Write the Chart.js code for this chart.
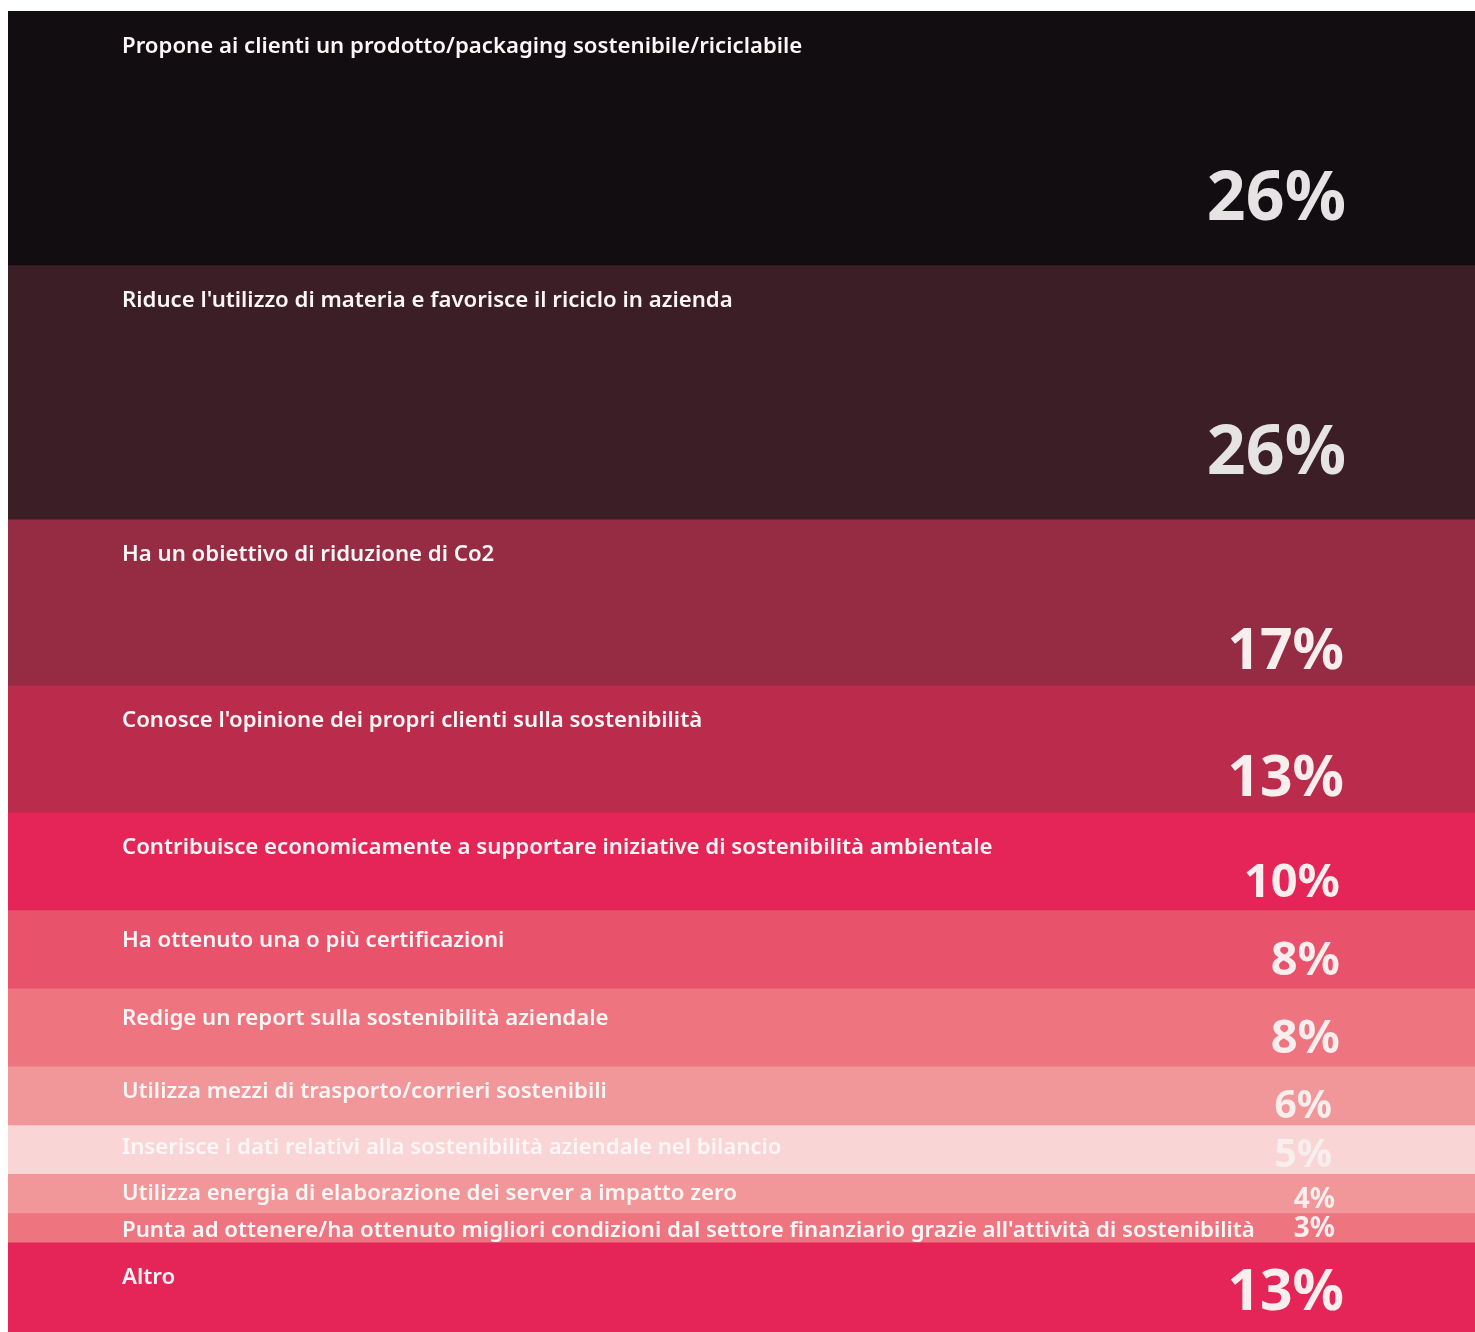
<!DOCTYPE html>
<html lang="it">
<head>
<meta charset="utf-8">
<title>Azioni di sostenibilità</title>
<script src="https://cdn.jsdelivr.net/npm/chart.js@4/dist/chart.umd.min.js"></script>
<style>
  html, body { margin: 0; padding: 0; background: #ffffff; }
  #wrap { position: relative; width: 1475px; height: 1332px; }
</style>
</head>
<body>
<div id="wrap"><canvas id="chart"></canvas></div>
<script>
// Quote di aziende per azione di sostenibilità (%)
const categories = [
  "Propone ai clienti un prodotto/packaging sostenibile/riciclabile",
  "Riduce l'utilizzo di materia e favorisce il riciclo in azienda",
  "Ha un obiettivo di riduzione di Co2",
  "Conosce l'opinione dei propri clienti sulla sostenibilità",
  "Contribuisce economicamente a supportare iniziative di sostenibilità ambientale",
  "Ha ottenuto una o più certificazioni",
  "Redige un report sulla sostenibilità aziendale",
  "Utilizza mezzi di trasporto/corrieri sostenibili",
  "Inserisce i dati relativi alla sostenibilità aziendale nel bilancio",
  "Utilizza energia di elaborazione dei server a impatto zero",
  "Punta ad ottenere/ha ottenuto migliori condizioni dal settore finanziario grazie all'attività di sostenibilità",
  "Altro"
];
const values = [26, 26, 17, 13, 10, 8, 8, 6, 5, 4, 3, 13];
const valueLabels = ["26%", "26%", "17%", "13%", "10%", "8%", "8%", "6%", "5%", "4%", "3%", "13%"];
const colors = [
  "#120d10", "#3b1e26", "#962b44", "#bb2b4c", "#e52558", "#e9526b",
  "#ee7580", "#f29799", "#f9d5d6", "#f29799", "#ee7580", "#e52558"
];

const LABEL_FONT = '600 22.2px "Noto Sans", "Open Sans", sans-serif';
const VALUE_FONT_FAMILY = '"Noto Sans", "Open Sans", sans-serif';

// Size tiers for the big percentage labels, chosen by band height
function valueStyle(h) {
  if (h >= 200) return { size: 68, rightInset: 129, lift: 45 };
  if (h >= 110) return { size: 57, rightInset: 131, lift: 16 };
  if (h >= 75)  return { size: 47, rightInset: 135, lift: 13 };
  if (h >= 45)  return { size: 39, rightInset: 143, lift: 7 };
  return { size: 28, rightInset: 140, lift: 5 };
}

const bandText = {
  id: 'bandText',
  afterDatasetsDraw(chart) {
    const ctx = chart.ctx;
    const area = chart.chartArea;
    ctx.save();
    chart.data.datasets.forEach((ds, i) => {
      const bar = chart.getDatasetMeta(i).data[0];
      if (!bar) return;
      const top = Math.min(bar.y, bar.base);
      const bottom = Math.max(bar.y, bar.base);
      const h = bottom - top;
      const visBottom = Math.min(bottom, area.bottom);
      const visH = visBottom - top;

      // category caption, top-left of band
      ctx.font = LABEL_FONT;
      ctx.fillStyle = '#fdf6f6';
      ctx.textAlign = 'left';
      ctx.textBaseline = 'alphabetic';
      const capTop = top + Math.min(26, 0.27 * h);
      ctx.fillText(ds.label, area.left + 114, capTop + 16);

      // percentage, right side of band
      const st = valueStyle(h);
      ctx.font = 'bold ' + st.size + 'px ' + VALUE_FONT_FAMILY;
      ctx.fillStyle = i < 2 ? '#e6e3e4' : '#f8eeee';
      ctx.textAlign = 'right';
      const baseY = visBottom < bottom ? top + 0.76 * visH : bottom - st.lift;
      ctx.fillText(valueLabels[i], area.right - st.rightInset, baseY);
    });
    ctx.restore();
  }
};

new Chart(document.getElementById('chart'), {
  type: 'bar',
  data: {
    labels: [''],
    datasets: categories.map((c, i) => ({
      label: c,
      data: [values[i]],
      backgroundColor: colors[i],
      borderWidth: 0,
      barPercentage: 1,
      categoryPercentage: 1,
      stack: 'tot'
    }))
  },
  options: {
    responsive: true,
    maintainAspectRatio: false,
    animation: false,
    layout: { padding: { left: 8, top: 11, right: 0, bottom: 0 } },
    plugins: { legend: { display: false }, tooltip: { enabled: false } },
    scales: {
      x: { display: false, stacked: true },
      y: { display: false, stacked: true, reverse: true, min: 0, max: 135.2 }
    }
  },
  plugins: [bandText]
});
</script>
</body>
</html>
